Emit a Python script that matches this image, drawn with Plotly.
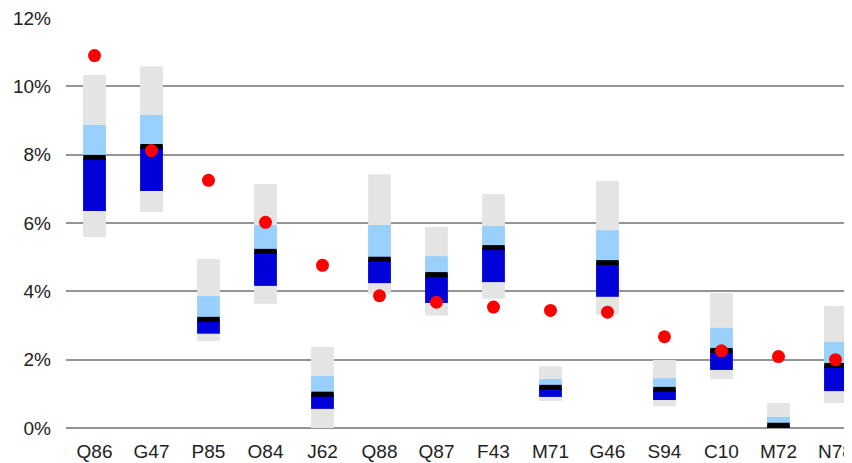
import plotly.graph_objects as go

categories = ["Q86", "G47", "P85", "O84", "J62", "Q88", "Q87", "F43", "M71", "G46", "S94", "C10", "M72", "N78"]
range_min = [5.59, 6.32, 2.55, 3.64, 0.00, 3.92, 3.29, 3.78, 0.79, 3.32, 0.64, 1.43, 0.00, 0.73]
range_max = [10.33, 10.59, 4.95, 7.14, 2.37, 7.43, 5.88, 6.85, 1.81, 7.23, 1.99, 3.95, 0.73, 3.57]
q1 = [6.35, 6.94, 2.76, 4.16, 0.56, 4.24, 3.66, 4.27, 0.91, 3.84, 0.82, 1.70, 0.00, 1.08]
median = [7.92, 8.24, 3.18, 5.17, 0.99, 4.94, 4.49, 5.28, 1.19, 4.84, 1.13, 2.27, 0.08, 1.83]
q3 = [8.87, 9.16, 3.86, 5.94, 1.52, 5.94, 5.03, 5.91, 1.43, 5.79, 1.46, 2.93, 0.32, 2.52]
current = [10.90, 8.12, 7.25, 6.02, 4.76, 3.87, 3.68, 3.54, 3.44, 3.39, 2.67, 2.26, 2.09, 2.00]

xs = list(range(len(categories)))
bw = 0.4

fig = go.Figure()
fig.add_trace(go.Bar(x=xs, y=[b - a for a, b in zip(range_min, range_max)], base=range_min,
                     width=bw, marker=dict(color="#e4e4e4", line=dict(width=0)), hoverinfo="skip"))
fig.add_trace(go.Bar(x=xs, y=[b - a for a, b in zip(median, q3)], base=median,
                     width=bw, marker=dict(color="#99d0fc", line=dict(width=0)), hoverinfo="skip"))
fig.add_trace(go.Bar(x=xs, y=[b - a for a, b in zip(q1, median)], base=q1,
                     width=bw, marker=dict(color="#0000d8", line=dict(width=0)), hoverinfo="skip"))
fig.add_trace(go.Scatter(x=xs, y=median, mode="markers",
                         marker=dict(symbol="line-ew", size=16, line=dict(width=5, color="black")),
                         hoverinfo="skip"))
fig.add_trace(go.Scatter(x=xs, y=current, mode="markers",
                         marker=dict(symbol="circle", size=13, color="#ff0000", line=dict(width=0)),
                         hoverinfo="skip"))

tick_font = dict(family="Liberation Sans, Arial, sans-serif", size=19, color="#222222")
fig.update_layout(
    width=844, height=455,
    margin=dict(l=58, r=0, t=10, b=35),
    barmode="overlay",
    showlegend=False,
    plot_bgcolor="white",
    paper_bgcolor="white",
    font=tick_font,
)
fig.update_xaxes(
    range=[-0.5, 13.29], automargin=False,
    tickmode="array", tickvals=xs, ticktext=categories, tickfont=tick_font,
    showgrid=False, zeroline=False, showline=False, ticks="",
    ticklabelstandoff=10, ticklabeloverflow="allow",
)
fig.update_yaxes(
    range=[0, 12], automargin=False,
    tickmode="array", tickvals=[0, 2, 4, 6, 8, 10, 12],
    ticktext=["0%", "2%", "4%", "6%", "8%", "10%", "12%"], tickfont=tick_font,
    showgrid=True, gridcolor="#959595", gridwidth=1.5,
    zeroline=True, zerolinecolor="#959595", zerolinewidth=1.5,
    showline=False, ticks="", ticklabelstandoff=14, ticklabeloverflow="allow",
)
fig.write_html("out.html")
